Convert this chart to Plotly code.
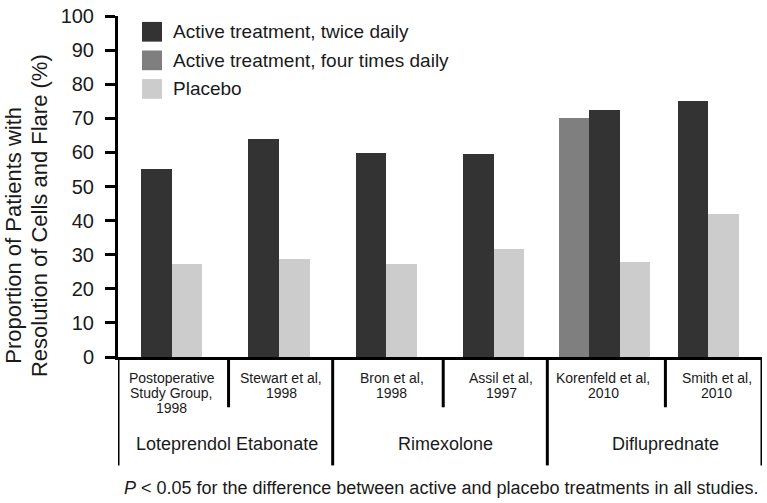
import plotly.graph_objects as go

# ---------------- data ----------------
studies = ["Postoperative Study Group, 1998", "Stewart et al, 1998", "Bron et al, 1998",
           "Assil et al, 1997", "Korenfeld et al, 2010", "Smith et al, 2010"]
study_label_lines = [["Postoperative", "Study Group,", "1998"],
                     ["Stewart et al,", "1998"],
                     ["Bron et al,", "1998"],
                     ["Assil et al,", "1997"],
                     ["Korenfeld et al,", "2010"],
                     ["Smith et al,", "2010"]]
drugs = ["Loteprendol Etabonate", "Rimexolone", "Difluprednate"]
drug_studies = [[0, 1], [2, 3], [4, 5]]
series_names = ["Active treatment, twice daily", "Active treatment, four times daily", "Placebo"]
twice_daily = [55.0, 64.0, 59.9, 59.6, 72.5, 75.0]
four_times_studies = ["Korenfeld et al, 2010"]
four_times_daily = [70.2]
placebo = [27.2, 28.8, 27.4, 31.8, 27.9, 42.0]
y_ticks = [0, 10, 20, 30, 40, 50, 60, 70, 80, 90, 100]
y_title_lines = ["Proportion of Patients with", "Resolution of Cells and Flare (%)"]
footnote = "<i>P</i> < 0.05 for the difference between active and placebo treatments in all studies."

# ---------------- style ----------------
colors = ["#333333", "#7f7f7f", "#cccccc"]
FONT = "Arial, Liberation Sans, Helvetica, sans-serif"
TXT = "#1a1a1a"
W, H = 767, 503
L, R, T, B = 118, 5, 11, 146
PW, PH = W - L - R, H - T - B

def px_x(px):
    return (px - L) / PW

def px_y(py):
    return (H - B - py) / PH

bw = 0.285
twice_offsets = [-bw, -bw, -bw, -bw, -0.11, -bw]
four_offsets = [-0.395]
placebo_offsets = [0, 0, 0, 0, 0.175, 0]

fig = go.Figure()
fig.add_trace(go.Bar(x=studies, y=twice_daily, name=series_names[0], width=bw,
                     offset=twice_offsets, marker=dict(color=colors[0], line=dict(width=0))))
fig.add_trace(go.Bar(x=four_times_studies, y=four_times_daily, name=series_names[1], width=bw,
                     offset=four_offsets, marker=dict(color=colors[1], line=dict(width=0))))
fig.add_trace(go.Bar(x=studies, y=placebo, name=series_names[2], width=bw,
                     offset=placebo_offsets, marker=dict(color=colors[2], line=dict(width=0))))

shapes = []
annotations = []

# group boundaries (drug) - long lines
for xb in [-0.5, 1.5, 3.5, 5.5]:
    shapes.append(dict(type="line", xref="x", yref="paper", x0=xb, x1=xb,
                       y0=0, y1=px_y(467), line=dict(color="black", width=3)))
# study separators - short lines
for xb in [0.53, 2.53, 4.6]:
    shapes.append(dict(type="line", xref="x", yref="paper", x0=xb, x1=xb,
                       y0=0, y1=px_y(408), line=dict(color="black", width=3)))

# study labels
label_shift = [0.0, 0.02, 0.05, 0.07, 0.02, 0.08]
line_y = [378, 393.5, 409]
for i, lines in enumerate(study_label_lines):
    for j, ln in enumerate(lines):
        annotations.append(dict(x=i + label_shift[i], y=px_y(line_y[j]), xref="x", yref="paper",
                                text=ln, showarrow=False, xanchor="center", yanchor="middle",
                                font=dict(size=14, color=TXT, family=FONT)))
# drug labels
drug_shift = [0.02, 0.05, 0.1]
for k, d in enumerate(drugs):
    xc = sum(drug_studies[k]) / len(drug_studies[k]) + drug_shift[k]
    annotations.append(dict(x=xc, y=px_y(445), xref="x", yref="paper", text=d,
                            showarrow=False, xanchor="center", yanchor="middle",
                            font=dict(size=18, color=TXT, family=FONT)))

# custom legend
leg_rows = [27, 56, 85]
for k, nm in enumerate(series_names):
    cy = leg_rows[k]
    shapes.append(dict(type="rect", xref="paper", yref="paper",
                       x0=px_x(142), x1=px_x(162), y0=px_y(cy - 10), y1=px_y(cy + 10),
                       fillcolor=colors[k], line=dict(width=0)))
    annotations.append(dict(x=px_x(171), y=px_y(cy), xref="paper", yref="paper", text=nm,
                            showarrow=False, xanchor="left", yanchor="middle",
                            font=dict(size=19, color=TXT, family=FONT)))

# y-axis title (two rotated lines)
yt_pos = [(14, 234), (39, 214)]
for k, t in enumerate(y_title_lines):
    annotations.append(dict(x=px_x(yt_pos[k][0]), y=px_y(yt_pos[k][1]), xref="paper", yref="paper",
                            text=t, textangle=-90, showarrow=False,
                            xanchor="center", yanchor="middle",
                            font=dict(size=22, color=TXT, family=FONT)))

# footnote
annotations.append(dict(x=px_x(761), y=px_y(490), xref="paper", yref="paper", text=footnote,
                        showarrow=False, xanchor="right", yanchor="middle",
                        font=dict(size=18, color=TXT, family=FONT)))

fig.update_layout(
    width=W, height=H,
    margin=dict(l=L, r=R, t=T, b=B),
    paper_bgcolor="white", plot_bgcolor="white",
    barmode="overlay", showlegend=False, bargap=0,
    font=dict(family=FONT, color=TXT),
    shapes=shapes, annotations=annotations,
)
fig.update_xaxes(type="category", categoryorder="array", categoryarray=studies,
                 range=[-0.5, 5.5], showticklabels=False, ticks="",
                 showline=True, linecolor="black", linewidth=3, showgrid=False, zeroline=False)
fig.update_yaxes(range=[0, 100], tickvals=y_ticks, ticks="outside", ticklen=10, tickwidth=3,
                 tickcolor="black", showline=True, linecolor="black", linewidth=3,
                 showgrid=False, zeroline=False, ticklabelstandoff=7,
                 tickfont=dict(size=20, color=TXT, family=FONT))

fig.write_html("out.html", config={"displayModeBar": False},
               post_script="document.body.style.margin='0';")
